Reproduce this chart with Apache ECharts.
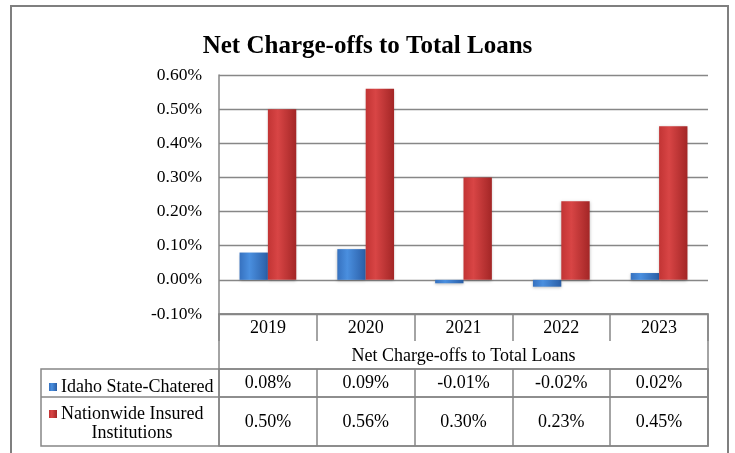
<!DOCTYPE html>
<html>
<head>
<meta charset="utf-8">
<script src="https://cdn.jsdelivr.net/npm/echarts@6/dist/echarts.min.js"></script>
<style>html,body{margin:0;padding:0;background:#fff;}#c{width:735px;height:453px;}</style>
</head>
<body>
<div id="c"></div>
<script>
var years = ['2019', '2020', '2021', '2022', '2023'];
var idaho = [0.08, 0.09, -0.01, -0.02, 0.02];
var nationwide = [0.50, 0.56, 0.30, 0.23, 0.45];
var seriesNames = ['Idaho State-Chatered', 'Nationwide Insured Institutions'];
var titleText = 'Net Charge-offs to Total Loans';
var tableLabel = 'Net Charge-offs to Total Loans';

var FONT = '"Liberation Serif", "Times New Roman", serif';
var FS = 18;
var GRID = {left: 219, right: 27, top: 75, bottom: 139};
var LINE = '#878787';

function pct(v) { return v.toFixed(2) + '%'; }

var blueGrad = new echarts.graphic.LinearGradient(0, 0, 1, 0, [
  {offset: 0, color: '#3671bf'}, {offset: 0.35, color: '#4a8fdf'}, {offset: 1, color: '#2a5ea6'}
]);
var redGrad = new echarts.graphic.LinearGradient(0, 0, 1, 0, [
  {offset: 0, color: '#c23434'}, {offset: 0.35, color: '#d84545'}, {offset: 1, color: '#a32626'}
]);

var chart = echarts.init(document.getElementById('c'), null, {renderer: 'canvas'});
var W = 735, H = 453;
var x0 = GRID.left, x1 = W - GRID.right, yb = H - GRID.bottom;

chart.setOption({
  animation: false,
  title: {
    text: titleText, left: 'center', top: 29,
    textStyle: {fontFamily: FONT, fontSize: 25, fontWeight: 'bold', color: '#000'}
  },
  legend: {
    data: seriesNames, orient: 'vertical', left: 44, top: 373,
    icon: 'rect', itemWidth: 8, itemHeight: 8, itemGap: 9,
    selectedMode: false,
    formatter: function (n) { return n === seriesNames[1] ? 'Nationwide Insured' : n; },
    textStyle: {fontFamily: FONT, fontSize: FS, color: '#000', padding: [0, 0, 0, -1]}
  },
  grid: GRID,
  xAxis: [
    {
      type: 'category', data: years, position: 'bottom',
      axisLine: {onZero: false, lineStyle: {color: LINE, width: 1.5}},
      axisTick: {show: true, length: 27, interval: 0, lineStyle: {color: LINE, width: 1.5}},
      axisLabel: {margin: 5, fontFamily: FONT, fontSize: FS, color: '#000', interval: 0},
      name: tableLabel, nameLocation: 'middle', nameGap: 33,
      nameTextStyle: {fontFamily: FONT, fontSize: FS, color: '#000'}
    },
    {
      type: 'category', data: idaho.map(pct), position: 'bottom', offset: 55,
      axisLine: {onZero: false, lineStyle: {color: LINE, width: 1.5}},
      axisTick: {show: true, length: 28, interval: 0, lineStyle: {color: LINE, width: 1.5}},
      axisLabel: {margin: 5, fontFamily: FONT, fontSize: FS, color: '#000', interval: 0}
    },
    {
      type: 'category', data: nationwide.map(pct), position: 'bottom', offset: 83,
      axisLine: {onZero: false, lineStyle: {color: LINE, width: 1.5}},
      axisTick: {show: true, length: 49, interval: 0, lineStyle: {color: LINE, width: 1.5}},
      axisLabel: {margin: 16, fontFamily: FONT, fontSize: FS, color: '#000', interval: 0}
    }
  ],
  yAxis: {
    type: 'value', min: -0.1, max: 0.6, interval: 0.1,
    axisLine: {show: true, lineStyle: {color: LINE, width: 1.5}},
    axisTick: {show: false},
    axisLabel: {margin: 17, fontFamily: FONT, fontSize: 17.5, color: '#000',
      formatter: function (v) { return pct(v); }},
    splitLine: {lineStyle: {color: LINE, width: 1.3}}
  },
  series: [
    {
      name: seriesNames[0], type: 'bar', data: idaho, barGap: '0%', barCategoryGap: '42%',
      itemStyle: {color: blueGrad, shadowColor: 'rgba(0,0,0,0.25)', shadowBlur: 3, shadowOffsetY: 1},
      emphasis: {disabled: true}
    },
    {
      name: seriesNames[1], type: 'bar', data: nationwide, barGap: '0%', barCategoryGap: '42%',
      itemStyle: {color: redGrad, shadowColor: 'rgba(0,0,0,0.25)', shadowBlur: 3, shadowOffsetY: 1},
      emphasis: {disabled: true}
    }
  ],
  graphic: [
    {type: 'rect', silent: true, shape: {x: 11, y: 6, width: 717, height: 470},
      style: {fill: 'none', stroke: '#7f7f7f', lineWidth: 2}},
    {type: 'rect', silent: true, shape: {x: x0, y: yb, width: x1 - x0, height: 132},
      style: {fill: 'none', stroke: LINE, lineWidth: 1.5}},
    {type: 'rect', silent: true, shape: {x: 41, y: yb + 55, width: x1 - 41, height: 77},
      style: {fill: 'none', stroke: LINE, lineWidth: 1.5}},
    {type: 'line', silent: true, shape: {x1: 41, y1: yb + 83, x2: x1, y2: yb + 83},
      style: {stroke: LINE, lineWidth: 1.5}},
    {type: 'text', silent: true, x: 132, y: 433,
      style: {text: 'Institutions', font: FS + 'px ' + FONT, fill: '#000', textAlign: 'center', textVerticalAlign: 'middle'}}
  ]
});
</script>
</body>
</html>
